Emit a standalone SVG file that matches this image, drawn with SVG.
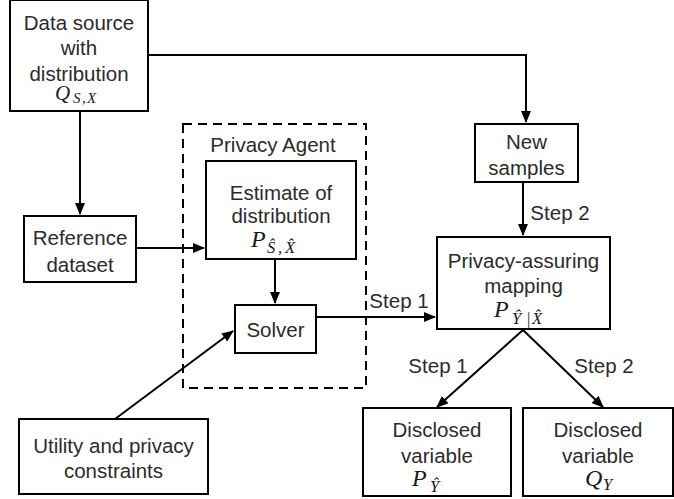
<svg xmlns="http://www.w3.org/2000/svg" width="674" height="499" viewBox="0 0 674 499">
<defs>
<marker id="ah" viewBox="0 0 12 10" refX="11" refY="5" markerWidth="12" markerHeight="10" markerUnits="userSpaceOnUse" orient="auto">
<path d="M0,0 L12,5 L0,10 Z" fill="#000"/>
</marker>
<style>
.box{fill:#fff;stroke:#000;stroke-width:2}
.dash{fill:none;stroke:#000;stroke-width:2;stroke-dasharray:9 6}
.t{font-family:"Liberation Sans",Arial,sans-serif;font-size:20.5px;fill:#2b2b2b;text-anchor:middle}
.m{font-family:"Liberation Serif","DejaVu Serif",serif;font-style:italic;font-size:24px;fill:#1a1a1a}
.s{font-size:16.5px}
.c{fill:none;stroke:#000;stroke-width:2}
</style>
</defs>
<rect width="674" height="499" fill="#fff"/>
<g id="privacy-agent">
<rect class="dash" x="183" y="124" width="183" height="264"/>
<text class="t" x="273" y="152">Privacy Agent</text>
</g>
<g id="connectors">
<polyline class="c" points="148,55 526,55 526,122" marker-end="url(#ah)"/>
<line class="c" x1="80" y1="111" x2="80" y2="214" marker-end="url(#ah)"/>
<line class="c" x1="136" y1="248" x2="204" y2="248" marker-end="url(#ah)"/>
<line class="c" x1="275" y1="259" x2="275" y2="303" marker-end="url(#ah)"/>
<line class="c" x1="115" y1="419" x2="233" y2="331" marker-end="url(#ah)"/>
<line class="c" x1="316" y1="317" x2="435" y2="317" marker-end="url(#ah)"/>
<line class="c" x1="523" y1="182" x2="523" y2="235" marker-end="url(#ah)"/>
<line class="c" x1="523" y1="330" x2="437" y2="407" marker-end="url(#ah)"/>
<line class="c" x1="523" y1="330" x2="603" y2="407" marker-end="url(#ah)"/>
<text class="t" x="560" y="220">Step 2</text>
<text class="t" x="399" y="308">Step 1</text>
<text class="t" x="438" y="373">Step 1</text>
<text class="t" x="604" y="373">Step 2</text>
</g>
<g id="data-source">
<rect class="box" x="10" y="0" width="138" height="111"/>
<text class="t" x="79" y="30">Data source</text>
<text class="t" x="79" y="55">with</text>
<text class="t" x="79" y="81">distribution</text>
<text class="m" x="55" y="100" style="font-size:21px">Q<tspan style="font-size:15px" x="73" y="103">S</tspan><tspan style="font-size:15px" x="82" y="103">,</tspan><tspan style="font-size:15px" x="87" y="103">X</tspan></text>
</g>
<g id="reference-dataset">
<rect class="box" x="24" y="216" width="112" height="66"/>
<text class="t" x="80" y="245">Reference</text>
<text class="t" x="80" y="272">dataset</text>
</g>
<g id="estimate">
<rect class="box" x="206" y="161" width="150" height="98"/>
<text class="t" x="281" y="200">Estimate of</text>
<text class="t" x="281" y="223">distribution</text>
<text class="m" x="251" y="247">P<tspan class="s" x="267" y="253">Ŝ</tspan><tspan class="s" x="278" y="253">,</tspan><tspan class="s" x="285" y="253">X̂</tspan></text>
</g>
<g id="solver">
<rect class="box" x="235" y="305" width="81" height="48"/>
<text class="t" x="275.5" y="337">Solver</text>
</g>
<g id="utility">
<rect class="box" x="19" y="419" width="189" height="75"/>
<text class="t" x="113.5" y="453">Utility and privacy</text>
<text class="t" x="113.5" y="478">constraints</text>
</g>
<g id="new-samples">
<rect class="box" x="475" y="124" width="103" height="58"/>
<text class="t" x="526.5" y="149">New</text>
<text class="t" x="526.5" y="175">samples</text>
</g>
<g id="mapping">
<rect class="box" x="437" y="237" width="173" height="92"/>
<text class="t" x="523.5" y="268">Privacy-assuring</text>
<text class="t" x="523.5" y="293">mapping</text>
<text class="m" x="494" y="317">P<tspan class="s" x="512" y="324">Ŷ</tspan><tspan class="s" x="527" y="324" style="font-style:normal">|</tspan><tspan class="s" x="532" y="324">X̂</tspan></text>
</g>
<g id="disclosed-p">
<rect class="box" x="363" y="408" width="148" height="88"/>
<text class="t" x="437" y="437">Disclosed</text>
<text class="t" x="437" y="463">variable</text>
<text class="m" x="412" y="486" style="font-size:24px">P<tspan class="s" x="430" y="492">Ŷ</tspan></text>
</g>
<g id="disclosed-q">
<rect class="box" x="523" y="408" width="150" height="88"/>
<text class="t" x="598" y="437">Disclosed</text>
<text class="t" x="598" y="463">variable</text>
<text class="m" x="585" y="486" style="font-size:24px">Q<tspan class="s" x="603" y="490">Y</tspan></text>
</g>
</svg>
